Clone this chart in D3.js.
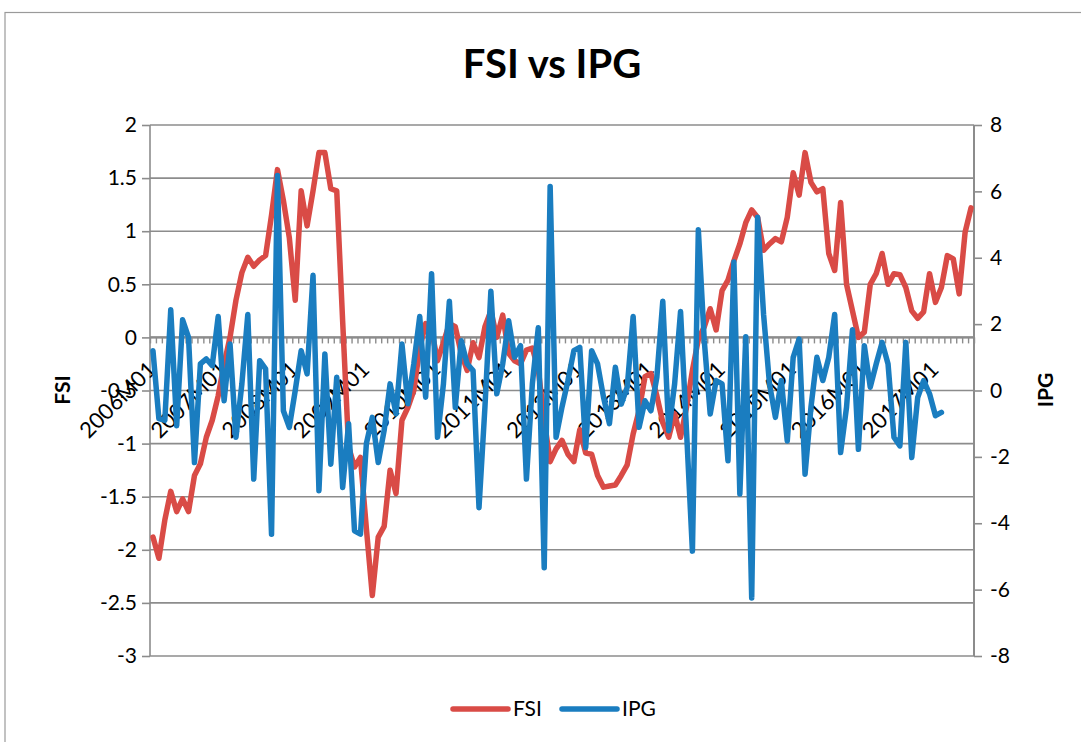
<!DOCTYPE html>
<html>
<head>
<meta charset="utf-8">
<script src="https://cdn.jsdelivr.net/npm/d3@7"></script>
<style>
  body { margin: 0; background: #fff; }
  text { font-family: Lato, "Liberation Sans", sans-serif; fill: #000; }
</style>
</head>
<body>
<svg id="chart" width="1081" height="742"></svg>
<script>
// monthly FSI readings, 2006M01 .. 2017M07
var fsi = [-1.88,-2.08,-1.72,-1.45,-1.64,-1.52,-1.64,-1.30,-1.19,-0.94,-0.78,-0.55,
  -0.25,0.00,0.35,0.61,0.755,0.67,0.73,0.77,1.15,1.58,1.29,0.94,
  0.35,1.38,1.05,1.38,1.74,1.74,1.40,1.38,0.15,-1.03,-1.22,-1.13,
  -1.80,-2.43,-1.88,-1.78,-1.25,-1.47,-0.78,-0.66,-0.50,-0.10,0.13,0.07,
  -0.22,-0.05,0.13,0.10,-0.15,-0.31,-0.05,-0.19,0.10,0.25,0.00,0.21,
  -0.15,-0.22,-0.25,-0.12,-0.10,-0.30,-0.78,-1.17,-1.05,-0.97,-1.10,-1.17,
  -0.87,-1.09,-1.10,-1.30,-1.41,-1.40,-1.39,-1.30,-1.20,-0.91,-0.69,-0.37,
  -0.34,-0.55,-0.80,-0.94,-0.72,-0.94,-0.66,-0.31,-0.02,0.10,0.27,0.07,
  0.44,0.54,0.72,0.88,1.08,1.20,1.13,0.82,0.88,0.93,0.90,1.13,
  1.55,1.34,1.74,1.46,1.37,1.40,0.79,0.63,1.27,0.50,0.25,0.00,
  0.05,0.50,0.60,0.79,0.50,0.60,0.59,0.47,0.25,0.18,0.24,0.60,
  0.33,0.47,0.77,0.74,0.41,0.99,1.22];

// monthly IPG readings, 2006M01 .. 2017M02
var ipg = [1.2,-0.85,-0.9,2.43,-1.06,2.13,1.6,-2.17,0.8,0.95,0.75,2.23,
  -0.31,1.4,-1.41,0.2,2.29,-2.67,0.9,0.65,-4.33,6.48,-0.61,-1.11,
  0.0,1.2,0.5,3.47,-3.02,1.1,-2.22,0.4,-2.92,-1.0,-4.23,-4.33,
  -1.6,-0.81,-2.17,-1.2,0.2,-0.7,1.4,-0.4,0.8,2.23,-0.2,3.52,
  -1.41,0.2,2.69,-0.51,1.5,0.8,0.6,-3.53,-0.5,2.99,-0.1,0.8,
  2.1,1.0,1.35,-2.67,0.2,1.89,-5.34,6.15,-1.41,-0.5,0.3,1.2,
  1.3,-1.72,1.2,0.8,-0.2,-1.0,0.7,-0.41,0.1,2.23,-1.11,-0.31,
  -0.61,0.4,2.69,-1.21,0.2,2.38,-1.2,-4.84,4.84,1.5,-0.71,0.3,
  0.2,-2.12,3.87,-3.12,1.62,-6.25,5.22,2.3,0.2,-0.81,0.3,-1.52,
  1.0,1.55,-2.52,-0.5,1.0,0.3,1.0,2.29,-1.87,-0.5,1.83,-1.77,
  1.35,0.1,0.8,1.45,0.8,-1.41,-1.67,1.45,-2.02,-0.21,0.3,-0.1,
  -0.76,-0.66];

var leftTicks = [2, 1.5, 1, 0.5, 0, -0.5, -1, -1.5, -2, -2.5, -3];
var rightTicks = [8, 6, 4, 2, 0, -2, -4, -6, -8];

var months = [];
for (var yr = 2006; months.length < fsi.length; yr++)
  for (var m = 1; m <= 12 && months.length < fsi.length; m++)
    months.push(yr + "M" + (m < 10 ? "0" + m : m));

var svg = d3.select("#chart"),
    margin = {top: 125, right: 107, bottom: 86, left: 150},
    width = +svg.attr("width") - margin.left - margin.right,
    height = +svg.attr("height") - margin.top - margin.bottom;

var gridColor = "#8c8c8c",
    red = "#d94b46",
    blue = "#1a7dc0";

// chart frame
svg.append("rect")
  .attr("x", 5).attr("y", 12.5)
  .attr("width", 1100).attr("height", 760)
  .attr("fill", "none").attr("stroke", "#9a9a9a").attr("stroke-width", 1.2);

svg.append("text")
  .attr("x", 552).attr("y", 78)
  .attr("text-anchor", "middle")
  .style("font-size", "40px").style("font-weight", "bold")
  .text("FSI vs IPG");

var g = svg.append("g").attr("transform", "translate(" + margin.left + "," + margin.top + ")");

var x = d3.scaleLinear().domain([0, months.length]).range([0, width]);
var yL = d3.scaleLinear().domain([-3, 2]).range([height, 0]);
var yR = d3.scaleLinear().domain([-8, 8]).range([height, 0]);

// horizontal gridlines
g.append("g")
  .selectAll("line")
  .data(leftTicks)
  .enter().append("line")
    .attr("x1", 0).attr("x2", width)
    .attr("y1", function(d) { return yL(d); })
    .attr("y2", function(d) { return yL(d); })
    .attr("stroke", gridColor).attr("stroke-width", 1.6);

// left axis
var la = g.append("g")
  .call(d3.axisLeft(yL).tickValues(leftTicks).tickSize(8).tickPadding(5)
    .tickFormat(function(d) { return String(d); }));
la.selectAll("line").attr("stroke", gridColor).attr("stroke-width", 1.6);
la.select(".domain").attr("stroke", gridColor).attr("stroke-width", 1.6).attr("d", "M0," + height + "V0");
la.selectAll("text").style("font-size", "21px").style("font-family", "Lato, sans-serif").attr("fill", "#000");

// right axis
var ra = g.append("g")
  .attr("transform", "translate(" + width + ",0)")
  .call(d3.axisRight(yR).tickValues(rightTicks).tickSize(8).tickPadding(8)
    .tickFormat(function(d) { return String(d); }));
ra.selectAll("line").attr("stroke", gridColor).attr("stroke-width", 1.6);
ra.select(".domain").attr("stroke", gridColor).attr("stroke-width", 2).attr("d", "M0," + height + "V0");
ra.selectAll("text").style("font-size", "21px").style("font-family", "Lato, sans-serif").attr("fill", "#000");

// category axis on the FSI zero line, a tick at every month boundary
var xa = g.append("g")
  .attr("transform", "translate(0," + yL(0) + ")")
  .call(d3.axisBottom(x).tickValues(d3.range(months.length + 1)).tickSize(6).tickFormat(""));
xa.selectAll("line").attr("stroke", gridColor).attr("stroke-width", 1.4);
xa.select(".domain").attr("stroke", gridColor).attr("stroke-width", 2.2).attr("d", "M0,0H" + width);

// yearly labels
g.append("g")
  .selectAll("text")
  .data(months.filter(function(d, i) { return i % 12 === 0; }))
  .enter().append("text")
    .attr("transform", function(d) {
      var i = months.indexOf(d);
      return "translate(" + (x(i + 0.5) - 1) + "," + (yL(0) + 28) + ") rotate(-45)";
    })
    .attr("text-anchor", "end")
    .attr("dy", "0.35em")
    .style("font-size", "22px")
    .text(function(d) { return d; });

var lineL = d3.line()
  .x(function(d, i) { return x(i + 0.5); })
  .y(function(d) { return yL(d); });
var lineR = d3.line()
  .x(function(d, i) { return x(i + 0.5); })
  .y(function(d) { return yR(d); });

g.append("path").datum(fsi)
  .attr("d", lineL)
  .attr("fill", "none").attr("stroke", red).attr("stroke-width", 5.5)
  .attr("stroke-linejoin", "round").attr("stroke-linecap", "round");

g.append("path").datum(ipg)
  .attr("d", lineR)
  .attr("fill", "none").attr("stroke", blue).attr("stroke-width", 5.5)
  .attr("stroke-linejoin", "round").attr("stroke-linecap", "round");

// axis titles
svg.append("text")
  .attr("transform", "translate(70,390) rotate(-90)")
  .attr("text-anchor", "middle")
  .style("font-size", "21px").style("font-weight", "bold")
  .text("FSI");
svg.append("text")
  .attr("transform", "translate(1053,390) rotate(-90)")
  .attr("text-anchor", "middle")
  .style("font-size", "21px").style("font-weight", "bold")
  .text("IPG");

// legend
var legend = [{name: "FSI", color: red, x: 453}, {name: "IPG", color: blue, x: 562}];
var lg = svg.append("g").selectAll("g").data(legend).enter().append("g");
lg.append("line")
  .attr("x1", function(d) { return d.x; }).attr("x2", function(d) { return d.x + 55; })
  .attr("y1", 709).attr("y2", 709)
  .attr("stroke", function(d) { return d.color; }).attr("stroke-width", 5.5)
  .attr("stroke-linecap", "round");
lg.append("text")
  .attr("x", function(d) { return d.x + 60; }).attr("y", 716)
  .style("font-size", "21px")
  .text(function(d) { return d.name; });
</script>
</body>
</html>
